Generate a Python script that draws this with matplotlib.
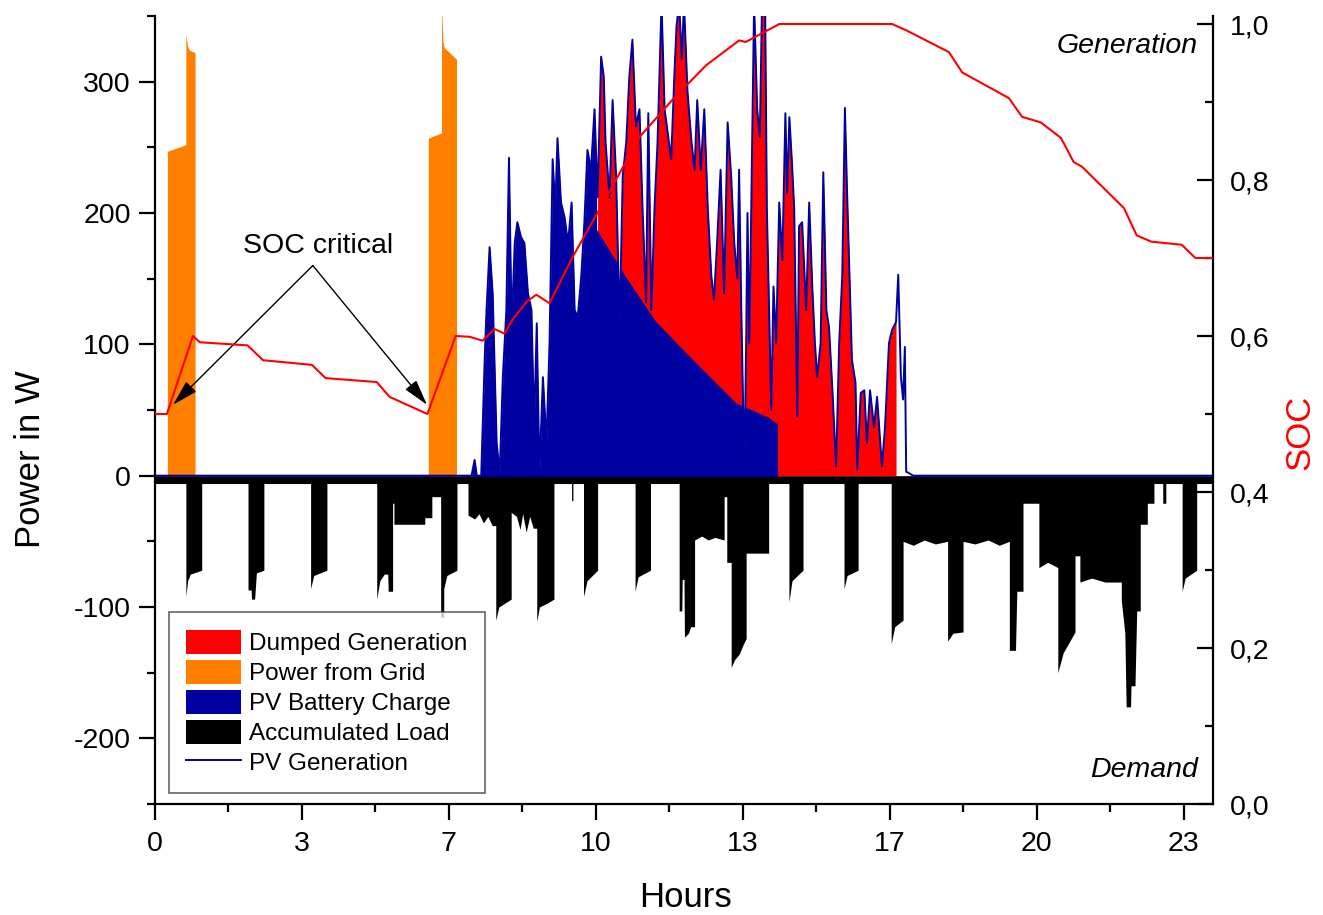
import numpy as np
import matplotlib
matplotlib.use('Agg')
import matplotlib.pyplot as plt
from matplotlib.patches import Patch, Polygon
from matplotlib.lines import Line2D

plt.rcParams['font.family'] = ['Liberation Sans', 'DejaVu Sans']
plt.rcParams['axes.unicode_minus'] = False

# ---------------- data ----------------
soc_t = [0.0, 0.27, 0.86, 1.02, 2.10, 2.45, 3.56, 3.87, 5.03, 5.32, 6.18, 6.82, 7.14, 7.43,
         7.70, 7.93, 8.11, 8.43, 8.65, 8.95, 9.47, 10.24, 10.99, 11.74, 12.50, 13.25, 13.40,
         14.16, 16.72, 17.04, 18.01, 18.31, 19.37, 19.67, 20.09, 20.55, 20.84, 21.03, 21.98,
         22.27, 22.60, 23.29, 23.60, 24.0]
soc_v = [0.500, 0.500, 0.600, 0.592, 0.588, 0.569, 0.563, 0.546, 0.541, 0.522, 0.500, 0.600,
         0.599, 0.594, 0.609, 0.603, 0.621, 0.644, 0.653, 0.642, 0.701, 0.778, 0.855, 0.903,
         0.947, 0.979, 0.977, 1.000, 1.000, 0.992, 0.964, 0.938, 0.905, 0.881, 0.874, 0.854,
         0.823, 0.817, 0.764, 0.729, 0.721, 0.717, 0.700, 0.700]

grid_t = [0.28, 0.28, 0.70, 0.70, 0.74, 0.78, 0.91, 0.91,
          6.20, 6.20, 6.50, 6.50, 6.53, 6.56, 6.84, 6.84]
grid_w = [0, 247, 252, 336, 327, 324, 322, 0,
          0, 257, 261, 360, 331, 326, 317, 0]

pv_t = [0.0, 7.18, 7.25, 7.30, 7.40, 7.48, 7.52, 7.59, 7.66, 7.75, 7.82, 7.89, 7.97, 8.03,
        8.09, 8.16, 8.22, 8.30, 8.38, 8.46, 8.54, 8.60, 8.66, 8.72, 8.80, 8.88, 8.95, 9.02,
        9.08, 9.13, 9.21, 9.29, 9.37, 9.45, 9.52, 9.59, 9.67, 9.74, 9.81, 9.89, 9.97, 10.04,
        10.12, 10.18, 10.22, 10.31, 10.38, 10.46, 10.54, 10.61, 10.69, 10.76, 10.83, 10.91,
        10.99, 11.06, 11.14, 11.19, 11.26, 11.33, 11.40, 11.49, 11.56, 11.63, 11.71, 11.78,
        11.83, 11.89, 11.95, 12.00, 12.08, 12.17, 12.24, 12.30, 12.38, 12.46, 12.54, 12.62,
        12.68, 12.75, 12.83, 12.91, 12.99, 13.07, 13.14, 13.21, 13.25, 13.30, 13.37, 13.41,
        13.44, 13.48, 13.52, 13.59, 13.66, 13.72, 13.77, 13.84, 13.88, 13.98, 14.03, 14.09,
        14.16, 14.23, 14.30, 14.34, 14.39, 14.45, 14.50, 14.57, 14.61, 14.68, 14.77, 14.84,
        14.91, 14.97, 15.02, 15.10, 15.16, 15.23, 15.29, 15.37, 15.45, 15.52, 15.59, 15.65,
        15.70, 15.76, 15.81, 15.89, 15.93, 16.01, 16.09, 16.15, 16.22, 16.31, 16.38, 16.49,
        16.56, 16.65, 16.72, 16.81, 16.86, 16.92, 16.97, 17.01, 17.04, 17.10, 17.20, 24.0]
pv_w = [0, 0, 12, 0, 0, 90, 126, 174, 139, 25, 2, 75, 126, 242,
        113, 177, 193, 182, 177, 139, 126, 37, 116, 2, 75, 25, 101, 241,
        203, 257, 208, 197, 177, 208, 126, 121, 152, 193, 248, 233, 279, 212,
        319, 304, 254, 212, 286, 228, 113, 228, 254, 304, 332, 266,
        279, 203, 132, 276, 126, 203, 254, 360, 279, 261, 241, 304,
        342, 360, 317, 360, 292, 254, 233, 286, 233, 279, 203, 152,
        134, 177, 233, 139, 269, 228, 177, 150, 233, 126, 2, 101,
        200, 101, 190, 360, 279, 258, 360, 360, 203, 50, 144, 101,
        208, 164, 276, 215, 273, 238, 203, 45, 190, 193, 126, 208,
        144, 101, 75, 101, 231, 126, 113, 63, 7, 101, 152, 280,
        215, 147, 88, 71, 5, 63, 65, 25, 65, 37, 60, 7,
        37, 101, 111, 117, 153, 75, 58, 98, 3, 2, 0, 0]

# battery charging limit (upper edge of the blue area inside the dumping period)
cap_t = [10.03, 10.03, 10.69, 11.37, 12.12, 13.19, 13.93, 14.13]
cap_w = [400, 187, 151, 117, 91, 55, 44, 39]
dump_start, dump_end = 10.0, 16.81

load_t = [0.00, 0.70, 0.70, 0.74, 0.80, 1.06, 1.06,
          2.11, 2.11, 2.18, 2.19, 2.26, 2.30, 2.47, 2.47,
          3.53, 3.53, 3.60, 3.90, 3.90,
          5.03, 5.03, 5.10, 5.20, 5.28, 5.29, 5.39, 5.39, 5.42, 5.42, 6.12, 6.12, 6.28, 6.28,
          6.48, 6.48, 6.55, 6.55, 6.62, 6.85, 6.85,
          7.10, 7.10, 7.25, 7.35, 7.45, 7.55, 7.65, 7.73, 7.73, 7.80, 8.08, 8.08, 8.20, 8.28,
          8.34, 8.42, 8.50, 8.58, 8.66, 8.66, 8.72, 8.90, 9.05, 9.05,
          9.45, 9.45, 9.48, 9.48,
          9.72, 9.72, 9.80, 10.04, 10.04,
          10.89, 10.89, 10.96, 11.24, 11.24,
          11.89, 11.89, 11.95, 11.96, 12.00, 12.01, 12.10, 12.15, 12.24, 12.24, 12.40, 12.55,
          12.70, 12.91, 12.91, 12.97, 12.97, 13.07, 13.07, 13.15, 13.25, 13.35, 13.41, 13.41,
          13.92, 13.92,
          14.38, 14.38, 14.45, 14.70, 14.70,
          15.63, 15.63, 15.70, 15.95, 15.95,
          16.70, 16.70, 16.78, 16.97, 16.97, 17.20, 17.45, 17.70, 17.98, 17.98, 18.10, 18.33,
          18.33, 18.60, 18.90, 19.15, 19.38, 19.38, 19.52, 19.55, 19.69, 19.69, 20.05, 20.05,
          20.25, 20.48, 20.48, 20.60, 20.87, 20.87, 20.98, 20.98, 21.25, 21.55, 21.92, 21.92,
          22.00, 22.03, 22.13, 22.14, 22.23, 22.27, 22.35, 22.35, 22.51, 22.51, 22.66, 22.66,
          22.86, 22.86, 22.93, 22.93,
          23.30, 23.30, 23.37, 23.63, 23.63, 24.00]
load_w = [-6, -6, -92, -80, -75, -72, -6,
          -6, -87, -87, -94, -94, -74, -72, -6,
          -6, -86, -76, -72, -6,
          -6, -94, -80, -75, -75, -88, -88, -21, -21, -37, -37, -32, -32, -16,
          -16, -108, -108, -86, -76, -72, -6,
          -6, -30, -33, -29, -36, -31, -38, -38, -110, -100, -94, -28, -31, -41,
          -29, -43, -31, -40, -40, -111, -100, -97, -94, -6,
          -6, -19, -19, -6,
          -6, -92, -80, -72, -6,
          -6, -88, -77, -72, -6,
          -6, -103, -103, -79, -79, -123, -120, -115, -115, -49, -46, -49,
          -47, -49, -16, -16, -66, -66, -146, -140, -136, -128, -124, -59,
          -59, -6,
          -6, -96, -80, -72, -6,
          -6, -86, -76, -72, -6,
          -6, -128, -115, -110, -50, -53, -49, -52, -50, -126, -120, -119,
          -50, -52, -49, -53, -50, -133, -133, -88, -88, -21, -21, -70,
          -66, -70, -150, -135, -119, -61, -61, -81, -78, -81, -81, -95,
          -120, -176, -176, -160, -160, -103, -103, -37, -37, -21, -21, -6,
          -6, -21, -21, -6,
          -6, -88, -78, -72, -6, -6]

x_ticks = [0, 10 / 3, 20 / 3, 10, 40 / 3, 50 / 3, 20, 70 / 3]
x_tick_labels = ['0', '3', '7', '10', '13', '17', '20', '23']
power_ticks = [-200, -100, 0, 100, 200, 300]
soc_ticks = [0.0, 0.2, 0.4, 0.6, 0.8, 1.0]
soc_tick_labels = ['0,0', '0,2', '0,4', '0,6', '0,8', '1,0']

legend_labels = ['Dumped Generation', 'Power from Grid', 'PV Battery Charge',
                 'Accumulated Load', 'PV Generation']

# ---------------- colours / sizes ----------------
C_RED = '#FF0000'
C_ORANGE = '#FF8000'
C_BLUE = '#0000A0'
TICK_FS = 20.5
LAB_FS = 25
SPINE_W = 1.6

fig = plt.figure(figsize=(13.23, 9.15), dpi=100)
ax = fig.add_axes([155 / 1323, 1 - 804 / 915, 1058 / 1323, 788 / 915])
ax.set_xlim(0, 24)
ax.set_ylim(-250, 350)

pv_t_a = np.array(pv_t)
pv_w_a = np.array(pv_w)

# accumulated load (negative)
ax.fill_between(load_t, load_w, 0, color='black', lw=0, zorder=1)
# power from grid
ax.fill_between(grid_t, 0, grid_w, color=C_ORANGE, lw=0, zorder=2)
# dumped generation
mask = (pv_t_a >= dump_start) & (pv_t_a <= dump_end)
ax.fill_between(pv_t_a, 0, pv_w_a, where=mask, color=C_RED, lw=0, zorder=3)
# battery charge, limited by the charging envelope
blue = ax.fill_between(pv_t_a, 0, pv_w_a, color=C_BLUE, lw=0, zorder=4)
clip_x = [0, 0] + cap_t + [cap_t[-1]]
clip_y = [-10, 400] + cap_w + [-10]
clip_poly = Polygon(np.column_stack([clip_x, clip_y]), closed=True,
                    transform=ax.transData)
blue.set_clip_path(clip_poly)
# PV generation line
ax.plot(pv_t_a, pv_w_a, color=C_BLUE, lw=1.4, zorder=5)

# axes styling
for s in ['top', 'right']:
    ax.spines[s].set_visible(False)
for s in ['left', 'bottom']:
    ax.spines[s].set_linewidth(SPINE_W)
ax.set_xticks(x_ticks)
ax.set_xticklabels(x_tick_labels)
ax.set_xticks([5 / 3 + 10 / 3 * i for i in range(7)], minor=True)
ax.set_yticks(power_ticks)
ax.set_yticklabels([str(v) for v in power_ticks])
ax.set_yticks([-250, -150, -50, 50, 150, 250, 350], minor=True)
ax.tick_params(which='major', direction='out', length=11.5, width=SPINE_W,
               labelsize=TICK_FS, pad=6)
ax.tick_params(which='minor', direction='out', length=5.5, width=SPINE_W)
ax.tick_params(axis='x', which='major', pad=8)

ax.set_xlabel('Hours', fontsize=LAB_FS)
ax.xaxis.set_label_coords(0.501, -0.119)
ax.xaxis.label.set_verticalalignment('center')
ax.set_ylabel('Power in W', fontsize=LAB_FS)
ax.yaxis.set_label_coords(-0.118, 0.437)
ax.yaxis.label.set_verticalalignment('center')

# SOC axis
ax2 = ax.twinx()
ax2.set_ylim(0, 1.0103)
ax2.plot(soc_t, soc_v, color=C_RED, lw=1.5, zorder=6)
for s in ['top', 'left', 'bottom']:
    ax2.spines[s].set_visible(False)
ax2.spines['right'].set_linewidth(SPINE_W)
ax2.set_yticks(soc_ticks)
ax2.set_yticklabels(soc_tick_labels)
ax2.set_yticks([0.1, 0.3, 0.5, 0.7, 0.9], minor=True)
ax2.tick_params(which='major', direction='in', length=11.5, width=SPINE_W,
                labelsize=TICK_FS, pad=12)
ax2.tick_params(which='minor', direction='in', length=5.5, width=SPINE_W)
ax2.set_ylabel('SOC', fontsize=LAB_FS, color=C_RED)
ax2.yaxis.set_label_coords(1.082, 0.472)
ax2.yaxis.label.set_verticalalignment('center')

# annotations
ax.text(0.9858, 0.962, 'Generation', transform=ax.transAxes, ha='right', va='center',
        fontsize=TICK_FS, style='italic', zorder=7)
ax.text(0.9858, 0.043, 'Demand', transform=ax.transAxes, ha='right', va='center',
        fontsize=TICK_FS, style='italic', zorder=7)
ax.text(3.70, 175, 'SOC critical', ha='center', va='center', fontsize=TICK_FS, zorder=7)
for tip in [(0.41, 54), (6.17, 54)]:
    ax.annotate('', xy=tip, xytext=(3.58, 160),
                arrowprops=dict(arrowstyle='-|>,head_length=0.8,head_width=0.22',
                                color='black', lw=1.0, mutation_scale=20,
                                shrinkA=0, shrinkB=0), zorder=7)

# legend
handles = [Patch(facecolor=C_RED, edgecolor='none'),
           Patch(facecolor=C_ORANGE, edgecolor='none'),
           Patch(facecolor=C_BLUE, edgecolor='none'),
           Patch(facecolor='black', edgecolor='none'),
           Line2D([0], [0], color=C_BLUE, lw=1.4)]
leg = ax.legend(handles, legend_labels, loc='lower left', bbox_to_anchor=(0.013, 0.014),
                borderaxespad=0, fontsize=17.5, frameon=True, fancybox=False,
                handlelength=2.25, handleheight=1.15, handletextpad=0.35,
                labelspacing=0.2, borderpad=0.72)
leg.get_frame().set_edgecolor('#404040')
leg.get_frame().set_linewidth(1.2)
leg.set_zorder(10)

fig.savefig('out.png', dpi=100)
